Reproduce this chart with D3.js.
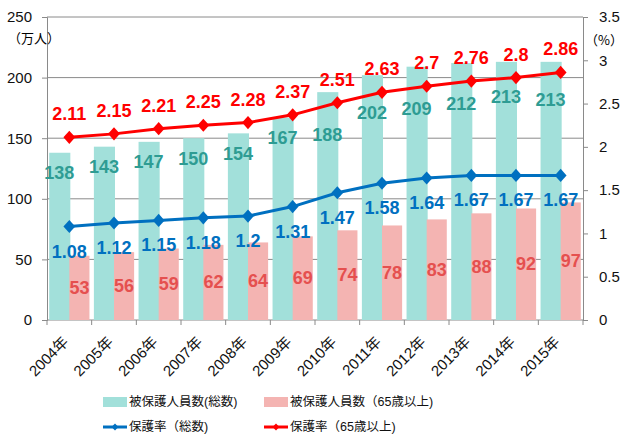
<!DOCTYPE html>
<html>
<head>
<meta charset="utf-8">
<script src="https://cdn.jsdelivr.net/npm/d3@7"></script>
<style>
  body { margin: 0; background: #fff; }
  text { font-family: "Liberation Sans", Arial, "Noto Sans CJK JP", sans-serif; }
</style>
</head>
<body>
<div id="chart"></div>
<script>
// chart data
var years = ["2004年","2005年","2006年","2007年","2008年","2009年","2010年","2011年","2012年","2013年","2014年","2015年"];
var totalPeople = [138, 143, 147, 150, 154, 167, 188, 202, 209, 212, 213, 213];
var elderPeople = [53, 56, 59, 62, 64, 69, 74, 78, 83, 88, 92, 97];
var rateTotal = [1.08, 1.12, 1.15, 1.18, 1.2, 1.31, 1.47, 1.58, 1.64, 1.67, 1.67, 1.67];
var rateElder = [2.11, 2.15, 2.21, 2.25, 2.28, 2.37, 2.51, 2.63, 2.7, 2.76, 2.8, 2.86];
var leftTicks = [0, 50, 100, 150, 200, 250];
var rightTicks = [0, 0.5, 1, 1.5, 2, 2.5, 3, 3.5];

// the teal labels were pushed down by hand in the original (px below bar top)
var tealLabelDy = [20, 20, 20, 21, 21, 20, 43, 38, 42, 41, 35, 38];

var W = 628, H = 446;
var L = 47, R = 583, T = 17, B = 320;

var svg = d3.select("#chart").append("svg")
  .attr("width", W)
  .attr("height", H);

var x = d3.scaleBand().domain(years).range([L, R]);
var sub = d3.scaleBand().domain(["a", "b"]).range([0, x.bandwidth()])
  .paddingInner(0).paddingOuter(0.11);
var y = d3.scaleLinear().domain([0, 250]).range([B, T]);
var y2 = d3.scaleLinear().domain([0, 3.5]).range([B, T]);

var gridCol = "#8a8a8a";

// gridlines
svg.append("g").selectAll("line")
  .data(leftTicks.slice(1))
  .enter().append("line")
  .attr("x1", L).attr("x2", R)
  .attr("y1", function(d){ return y(d); })
  .attr("y2", function(d){ return y(d); })
  .attr("stroke", gridCol).attr("stroke-width", 1);

// axes
var leftAxis = d3.axisLeft(y).tickValues(leftTicks).tickSize(5).tickPadding(10);
var gl = svg.append("g").attr("transform", "translate(" + L + ",0)").call(leftAxis);
var rightAxis = d3.axisRight(y2).tickValues(rightTicks).tickSize(5)
  .tickPadding(11).tickFormat(function(d){ return String(d); });
var gr = svg.append("g").attr("transform", "translate(" + R + ",0)").call(rightAxis);
[gl, gr].forEach(function(g){
  g.select(".domain").attr("stroke", gridCol);
  g.selectAll(".tick line").attr("stroke", gridCol);
  g.selectAll(".tick text").attr("font-size", 15).attr("fill", "#111")
    .style("font-family", "'Liberation Sans', Arial, sans-serif");
});

// bottom axis line and boundary ticks
svg.append("line").attr("x1", L).attr("x2", R).attr("y1", B).attr("y2", B)
  .attr("stroke", gridCol);
svg.append("g").selectAll("line")
  .data(years.concat(["end"]))
  .enter().append("line")
  .attr("x1", function(d, i){ return L + i * x.step(); })
  .attr("x2", function(d, i){ return L + i * x.step(); })
  .attr("y1", B).attr("y2", B + 5)
  .attr("stroke", gridCol);

// unit labels
svg.append("text").attr("x", 8).attr("y", 43).attr("font-size", 13)
  .style("font-family", "'Noto Sans CJK JP', sans-serif")
  .text("（万人）");
svg.append("text").attr("x", 585).attr("y", 45).attr("font-size", 13)
  .style("font-family", "'Noto Sans CJK JP', sans-serif")
  .text("（%）");

// x labels
svg.append("g").selectAll("text")
  .data(years)
  .enter().append("text")
  .attr("transform", function(d){
    return "translate(" + (x(d) + x.bandwidth() / 2) + "," + (B + 23) + ") rotate(-45)";
  })
  .attr("text-anchor", "end")
  .attr("font-size", 15)
  .attr("fill", "#111")
  .style("font-family", "'Liberation Sans', 'Noto Sans CJK JP', sans-serif")
  .text(function(d){ return d; });

// bars
var teal = "#a2e0da", pink = "#f4b4b2";
svg.append("g").selectAll("rect")
  .data(totalPeople)
  .enter().append("rect")
  .attr("x", function(d, i){ return x(years[i]) + sub("a"); })
  .attr("width", sub.bandwidth() + 1)
  .attr("y", function(d){ return y(d); })
  .attr("height", function(d){ return B - y(d); })
  .attr("fill", teal);
svg.append("g").selectAll("rect")
  .data(elderPeople)
  .enter().append("rect")
  .attr("x", function(d, i){ return x(years[i]) + sub("b"); })
  .attr("width", sub.bandwidth())
  .attr("y", function(d){ return y(d); })
  .attr("height", function(d){ return B - y(d); })
  .attr("fill", pink);

// lines
var cx = function(d, i){ return x(years[i]) + x.bandwidth() / 2; };
var diamond = d3.symbol().type(d3.symbolDiamond2).size(110);
function drawLine(vals, col){
  var line = d3.line().x(cx).y(function(d){ return y2(d); });
  svg.append("path").datum(vals)
    .attr("d", line)
    .attr("fill", "none")
    .attr("stroke", col)
    .attr("stroke-width", 3);
  svg.append("g").selectAll("path")
    .data(vals)
    .enter().append("path")
    .attr("d", diamond)
    .attr("transform", function(d, i){
      return "translate(" + cx(d, i) + "," + y2(d) + ") scale(0.9,1)";
    })
    .attr("fill", col);
}
drawLine(rateTotal, "#0070c0");
drawLine(rateElder, "#ff0000");

// data labels
function labels(vals, xf, yf, col){
  svg.append("g").selectAll("text")
    .data(vals)
    .enter().append("text")
    .attr("x", xf)
    .attr("y", yf)
    .attr("text-anchor", "middle")
    .attr("dominant-baseline", "central")
    .attr("font-size", 18)
    .attr("font-weight", "bold")
    .attr("fill", col)
    .text(function(d){ return String(d); });
}
labels(totalPeople,
  function(d, i){ return x(years[i]) + sub("a") + sub.bandwidth() / 2; },
  function(d, i){ return y(d) + tealLabelDy[i]; },
  "#2e9c93");
labels(elderPeople,
  function(d, i){ return x(years[i]) + sub("b") + sub.bandwidth() / 2; },
  function(d){ return (y(d) + B) / 2; },
  "#e5504f");
labels(rateTotal, cx, function(d){ return y2(d) + 25; }, "#0070c0");
labels(rateElder, cx, function(d){ return y2(d) - 23; }, "#ff0000");

// legend
var lg = svg.append("g").style("font-family", "'Noto Sans CJK JP', sans-serif");
var items = [
  { t: "被保護人員数(総数)", c: teal, kind: "bar", lx: 103, ly: 402 },
  { t: "被保護人員数（65歳以上)", c: pink, kind: "bar", lx: 264, ly: 402 },
  { t: "保護率（総数)", c: "#0070c0", kind: "line", lx: 103, ly: 427 },
  { t: "保護率（65歳以上)", c: "#ff0000", kind: "line", lx: 264, ly: 427 }
];
items.forEach(function(it){
  if (it.kind == "bar") {
    lg.append("rect").attr("x", it.lx).attr("y", it.ly - 5)
      .attr("width", 24).attr("height", 10).attr("fill", it.c);
  } else {
    lg.append("line").attr("x1", it.lx).attr("x2", it.lx + 24)
      .attr("y1", it.ly).attr("y2", it.ly)
      .attr("stroke", it.c).attr("stroke-width", 3);
    lg.append("path").attr("d", d3.symbol().type(d3.symbolDiamond2).size(30))
      .attr("transform", "translate(" + (it.lx + 12) + "," + it.ly + ")")
      .attr("fill", it.c);
  }
  lg.append("text").attr("x", it.lx + 26).attr("y", it.ly)
    .attr("dominant-baseline", "central")
    .attr("font-size", 12.5)
    .attr("fill", "#111")
    .text(it.t);
});
</script>
</body>
</html>
